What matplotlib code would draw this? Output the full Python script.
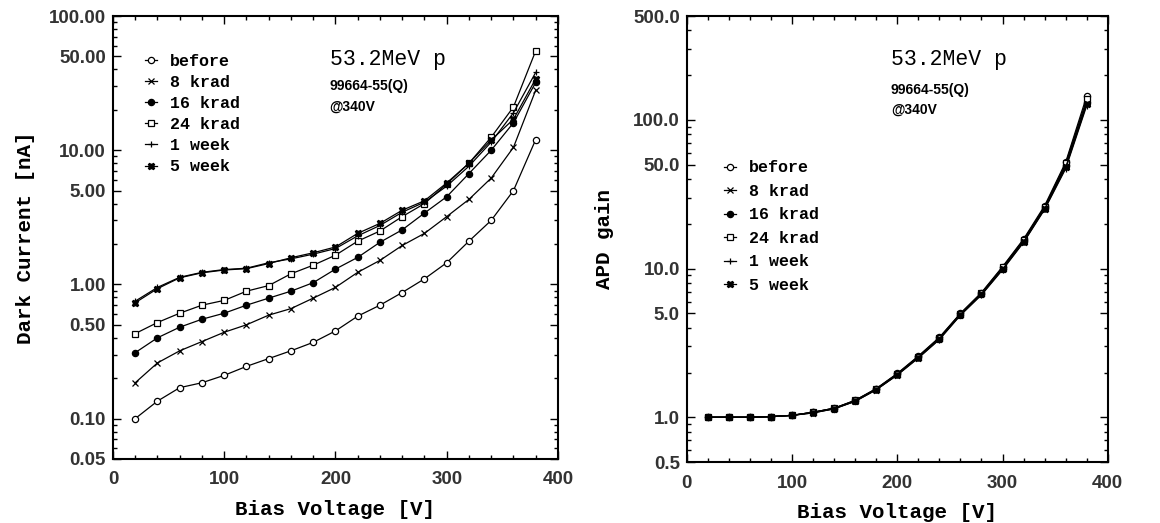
import matplotlib
matplotlib.use("Agg")
import matplotlib.pyplot as plt
from matplotlib.ticker import FixedLocator, FormatStrFormatter, LogLocator, MultipleLocator, NullFormatter

# bias voltage points [V]
voltage = [20, 40, 60, 80, 100, 120, 140, 160, 180, 200,
           220, 240, 260, 280, 300, 320, 340, 360, 380]

labels = ["before", "8 krad", "16 krad", "24 krad", "1 week", "5 week"]

# dark current [nA]
dark_before = [0.10, 0.135, 0.17, 0.185, 0.21, 0.245, 0.28, 0.32, 0.37, 0.45,
               0.58, 0.70, 0.87, 1.10, 1.45, 2.1, 3.0, 5.0, 12.0]
dark_8krad = [0.185, 0.26, 0.32, 0.375, 0.44, 0.50, 0.59, 0.66, 0.79, 0.95,
              1.23, 1.51, 1.95, 2.4, 3.2, 4.3, 6.2, 10.5, 28.0]
dark_16krad = [0.31, 0.40, 0.48, 0.55, 0.61, 0.70, 0.79, 0.89, 1.03, 1.30,
               1.59, 2.06, 2.55, 3.4, 4.5, 6.7, 10.0, 16.0, 32.0]
dark_24krad = [0.43, 0.52, 0.61, 0.70, 0.76, 0.89, 0.98, 1.20, 1.39, 1.65,
               2.1, 2.5, 3.2, 4.0, 5.6, 8.0, 12.5, 21.0, 55.0]
dark_1week = [0.75, 0.95, 1.13, 1.23, 1.29, 1.32, 1.45, 1.55, 1.68, 1.85,
              2.3, 2.75, 3.45, 4.1, 5.4, 7.6, 11.5, 19.0, 38.0]
dark_5week = [0.73, 0.93, 1.12, 1.22, 1.28, 1.31, 1.43, 1.58, 1.72, 1.90,
              2.4, 2.85, 3.57, 4.2, 5.7, 8.0, 11.9, 17.0, 34.0]

# APD gain
gain_before = [1.0, 1.0, 1.0, 1.01, 1.03, 1.08, 1.15, 1.30, 1.56, 1.97,
               2.58, 3.45, 5.0, 6.9, 10.3, 15.8, 26.5, 52.0, 145.0]
gain_8krad = [1.0, 1.0, 1.0, 1.01, 1.03, 1.08, 1.15, 1.29, 1.55, 1.95,
              2.55, 3.4, 4.95, 6.8, 10.1, 15.5, 25.8, 50.0, 132.0]
gain_16krad = [1.0, 1.0, 1.0, 1.01, 1.03, 1.08, 1.14, 1.29, 1.54, 1.94,
               2.53, 3.38, 4.9, 6.75, 10.0, 15.3, 25.5, 49.0, 130.0]
gain_24krad = [1.0, 1.0, 1.0, 1.01, 1.03, 1.08, 1.15, 1.30, 1.55, 1.96,
               2.56, 3.42, 4.97, 6.85, 10.2, 15.6, 26.0, 51.0, 138.0]
gain_1week = [1.0, 1.0, 1.0, 1.01, 1.03, 1.07, 1.14, 1.28, 1.53, 1.92,
              2.5, 3.33, 4.85, 6.65, 9.8, 15.0, 25.0, 47.0, 125.0]
gain_5week = [1.0, 1.0, 1.0, 1.01, 1.03, 1.07, 1.14, 1.28, 1.53, 1.93,
              2.52, 3.35, 4.88, 6.7, 9.9, 15.1, 25.2, 48.0, 128.0]

dark = [dark_before, dark_8krad, dark_16krad, dark_24krad, dark_1week, dark_5week]
gain = [gain_before, gain_8krad, gain_16krad, gain_24krad, gain_1week, gain_5week]

# marker style per series: (marker, filled)
styles = [("o", False), ("x", False), ("o", True), ("s", False), ("+", False), ("X", True)]

mono = ["Liberation Mono", "DejaVu Sans Mono"]
sans = ["Liberation Sans", "DejaVu Sans"]

fig = plt.figure(figsize=(11.6, 5.23), dpi=100)
ax1 = fig.add_axes([0.0974, 0.1224, 0.3836, 0.847])
ax2 = fig.add_axes([0.592, 0.1166, 0.363, 0.8528])


def draw(ax, series, yticks, fmt, ylim):
    for vals, lab, (mk, filled) in zip(series, labels, styles):
        ax.plot(voltage, vals, color="black", lw=0.9, marker=mk,
                markersize=4.5 if mk != "X" else 5,
                markerfacecolor="black" if filled else "white",
                markeredgecolor="black", markeredgewidth=0.9, label=lab)
    ax.set_yscale("log")
    ax.set_xlim(0, 400)
    ax.set_ylim(*ylim)
    ax.xaxis.set_major_locator(MultipleLocator(100))
    ax.xaxis.set_minor_locator(MultipleLocator(20))
    ax.yaxis.set_major_locator(FixedLocator(yticks))
    ax.yaxis.set_major_formatter(FormatStrFormatter(fmt))
    ax.yaxis.set_minor_locator(LogLocator(base=10, subs=range(2, 10)))
    ax.yaxis.set_minor_formatter(NullFormatter())
    ax.tick_params(which="both", direction="in", top=True, right=True, width=1)
    ax.tick_params(which="major", length=6)
    ax.tick_params(axis="x", which="major", pad=9)
    ax.tick_params(axis="y", which="major", pad=5)
    ax.tick_params(which="minor", length=3)
    for t in ax.get_xticklabels() + ax.get_yticklabels():
        t.set_fontfamily(sans)
        t.set_fontweight("bold")
        t.set_fontsize(13.5)
        t.set_color("#333333")
    for s in ax.spines.values():
        s.set_linewidth(1.5)
    ax.set_xlabel("Bias Voltage [V]", family=mono, fontweight="bold", fontsize=15, labelpad=8)


def add_legend(ax, x, y, spacing):
    ax.legend(loc="upper left", bbox_to_anchor=(x, y), frameon=False,
              prop={"family": mono, "weight": "bold", "size": 12},
              handlelength=0.7, handletextpad=0.8, labelspacing=spacing, borderpad=0)


draw(ax1, dark, [0.05, 0.1, 0.5, 1, 5, 10, 50, 100], "%.2f", (0.05, 100))
ax1.set_ylabel("Dark Current [nA]", family=mono, fontweight="bold", fontsize=15, labelpad=10)
add_legend(ax1, 0.054, 0.934, 0.37)
ax1.text(0.487, 0.89, "53.2MeV p", transform=ax1.transAxes, family=mono, fontsize=15.5)
ax1.text(0.487, 0.832, "99664-55(Q)", transform=ax1.transAxes, family=sans, fontweight="bold", fontsize=10)
ax1.text(0.487, 0.787, "@340V", transform=ax1.transAxes, family=sans, fontweight="bold", fontsize=10)

draw(ax2, gain, [0.5, 1, 5, 10, 50, 100, 500], "%.1f", (0.5, 500))
ax2.set_ylabel("APD gain", family=mono, fontweight="bold", fontsize=15, labelpad=14)
add_legend(ax2, 0.069, 0.695, 0.51)
ax2.text(0.485, 0.89, "53.2MeV p", transform=ax2.transAxes, family=mono, fontsize=15.5)
ax2.text(0.485, 0.825, "99664-55(Q)", transform=ax2.transAxes, family=sans, fontweight="bold", fontsize=10)
ax2.text(0.485, 0.78, "@340V", transform=ax2.transAxes, family=sans, fontweight="bold", fontsize=10)

fig.savefig("out.png", dpi=100)
